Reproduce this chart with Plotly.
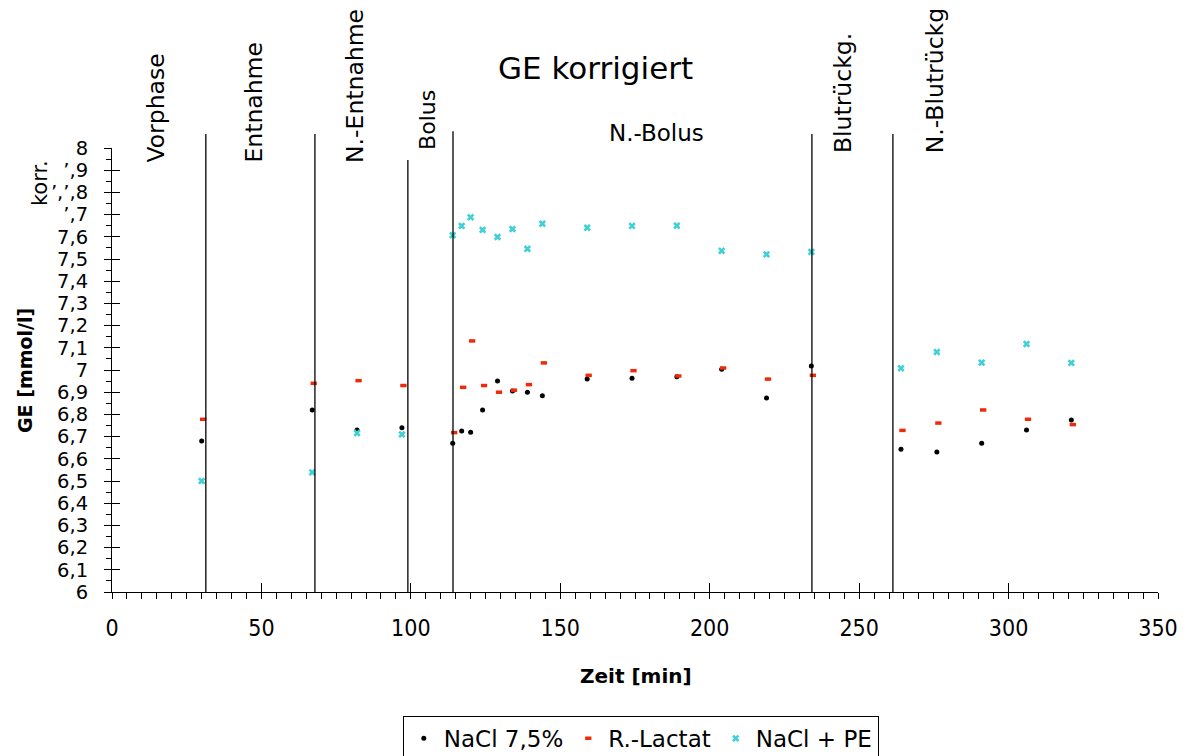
import plotly.graph_objects as go

# ---- data ----
t_nacl = [30, 67, 82, 97, 114, 117, 120, 124, 129, 134, 139, 144, 159, 174, 189, 204, 219, 234, 264, 276, 291, 306, 321]
nacl75 = [6.68, 6.82, 6.73, 6.74, 6.67, 6.725, 6.72, 6.82, 6.95, 6.905, 6.90, 6.884, 6.96, 6.963, 6.97, 7.003, 6.874, 7.018, 6.643, 6.631, 6.67, 6.73, 6.775]

t_lact = [30.5, 67.5, 82.5, 97.5, 114.5, 117.5, 120.5, 124.5, 129.5, 134.5, 139.5, 144.5, 159.5, 174.5, 189.5, 204.5, 219.5, 234.5, 264.5, 276.5, 291.5, 306.5, 321.5]
lactat = [6.778, 6.94, 6.952, 6.93, 6.718, 6.922, 7.131, 6.93, 6.90, 6.909, 6.934, 7.032, 6.976, 6.997, 6.973, 7.009, 6.959, 6.976, 6.728, 6.761, 6.82, 6.778, 6.754]

t_pe = [30, 67, 82, 97, 114, 117, 120, 124, 129, 134, 139, 144, 159, 174, 189, 204, 219, 234, 264, 276, 291, 306, 321]
nacl_pe = [6.50, 6.539, 6.716, 6.71, 7.607, 7.649, 7.688, 7.631, 7.599, 7.635, 7.546, 7.659, 7.641, 7.649, 7.65, 7.537, 7.521, 7.532, 7.008, 7.081, 7.033, 7.117, 7.032]

phase_bounds = [31.4, 67.9, 99.0, 114.1, 234.2, 261.3]
phase_names = ["Vorphase", "Entnahme", "N.-Entnahme", "Bolus", "N.-Bolus", "Blutrückg.", "N.-Blutrückg"]
phase_label_x = [14.4, 47.2, 81.3, 105.7, 182.3, 244.6, 275.3]

y_tickvals = [6.0, 6.1, 6.2, 6.3, 6.4, 6.5, 6.6, 6.7, 6.8, 6.9, 7.0, 7.1, 7.2, 7.3, 7.4, 7.5, 7.6, 7.7, 7.8, 7.9, 8.0]
y_ticktext = ["6", "6,1", "6,2", "6,3", "6,4", "6,5", "6,6", "6,7", "6,8", "6,9", "7",
              "7,1", "7,2", "7,3", "7,4", "7,5", "7,6", "’,7", "’,’,8", "’,9", "8"]
x_tickvals = [0, 50, 100, 150, 200, 250, 300, 350]

FONT = "DejaVu Sans"
NARROW = "Liberation Sans Narrow, DejaVu Sans Condensed, Liberation Sans"

fig = go.Figure()
fig.add_trace(go.Scatter(x=t_nacl, y=nacl75, mode="markers", name="NaCl 7,5%",
                         marker=dict(symbol="circle", size=5, color="black")))
fig.add_trace(go.Scatter(x=t_lact, y=lactat, mode="markers", name="R.-Lactat",
                         marker=dict(symbol="line-ew", size=4.5, color="#ee2a0a",
                                     line=dict(color="#ee2a0a", width=3.5))))
fig.add_trace(go.Scatter(x=t_pe, y=nacl_pe, mode="markers", name="NaCl + PE",
                         marker=dict(symbol="x", size=6.5, color="#3fd0d8", line=dict(width=0))))
# dummy trace for overlay tick axes
fig.add_trace(go.Scatter(x=[None], y=[None], xaxis="x2", yaxis="y2", showlegend=False, hoverinfo="skip"))

# phase separator lines
line_tops = [1.0315, 1.0315, 0.973, 1.038, 1.0315, 1.0315]
for xb, top in zip(phase_bounds, line_tops):
    fig.add_shape(type="line", xref="x", yref="paper", x0=xb, x1=xb, y0=0, y1=top,
                  line=dict(color="black", width=1.3))

# phase labels
label_y = [0.9617, 0.9617, 0.9617, 0.991, 1.034, 0.984, 0.984]
for name, lx, ly in zip(phase_names, phase_label_x, label_y):
    if name == "N.-Bolus":
        fig.add_annotation(x=lx, y=ly, xref="x", yref="paper", text=name, showarrow=False,
                           xanchor="center", yanchor="middle", font=dict(family=FONT, size=23, color="black"))
    else:
        fig.add_annotation(x=lx, y=ly, xref="x", yref="paper", text=name, showarrow=False,
                           textangle=-90, xanchor="center", yanchor="bottom",
                           font=dict(family=FONT, size=22 if name == "Bolus" else 23.5, color="black"))

# titles
fig.add_annotation(x=0.4627, y=1.180, xref="paper", yref="paper", text="GE korrigiert", showarrow=False,
                   xanchor="center", yanchor="middle", font=dict(family=FONT, size=31, color="black"))
fig.add_annotation(x=-0.0832, y=0.5, xref="paper", yref="paper", text="<b>GE [mmol/l]</b>", showarrow=False,
                   textangle=-90, xanchor="center", yanchor="middle", font=dict(family=FONT, size=19, color="black"))
fig.add_annotation(x=-0.0688, y=0.921, xref="paper", yref="paper", text="korr.", showarrow=False,
                   textangle=-90, xanchor="center", yanchor="middle", font=dict(family=FONT, size=21, color="black"))
fig.add_annotation(x=0.501, y=-0.189, xref="paper", yref="paper", text="<b>Zeit [min]</b>", showarrow=False,
                   xanchor="center", yanchor="middle", font=dict(family=FONT, size=20, color="black"))

fig.update_layout(
    width=1192, height=756, autosize=False,
    margin=dict(l=112, r=34, t=148, b=164, autoexpand=False),
    paper_bgcolor="white", plot_bgcolor="white",
    showlegend=True,
    legend=dict(orientation="h", x=0.278, xanchor="left", y=-0.279, yanchor="top",
                bordercolor="black", borderwidth=1, bgcolor="white",
                font=dict(family=FONT, size=23, color="black"), itemwidth=30),
    xaxis=dict(range=[0, 350], tickvals=x_tickvals, ticks="outside", ticklen=5, tickcolor="black",
               showline=True, linecolor="black", linewidth=1, showgrid=False, zeroline=False,
               tickfont=dict(family=NARROW, size=23, color="black"), ticklabelstandoff=10,
               minor=dict(dtick=5, ticks="outside", ticklen=6, tickcolor="black", showgrid=False)),
    xaxis2=dict(range=[0, 350], overlaying="x", anchor="y", tickvals=x_tickvals, ticks="inside", ticklen=9,
                tickcolor="black", showticklabels=False, showline=False, showgrid=False, zeroline=False),
    yaxis=dict(range=[6, 8], tickvals=y_tickvals, ticktext=y_ticktext, ticks="outside", ticklen=7,
               tickcolor="black", showline=True, linecolor="black", linewidth=1, showgrid=False,
               zeroline=False, tickfont=dict(family=FONT, size=19.5, color="black"), ticklabelstandoff=12,
               minor=dict(dtick=0.05, ticks="outside", ticklen=5, tickcolor="black", showgrid=False)),
    yaxis2=dict(range=[6, 8], overlaying="y", anchor="x", side="left", tickvals=y_tickvals, ticks="inside",
                ticklen=8, tickcolor="black", showticklabels=False, showline=False, showgrid=False, zeroline=False),
)

fig.write_html("out.html")
